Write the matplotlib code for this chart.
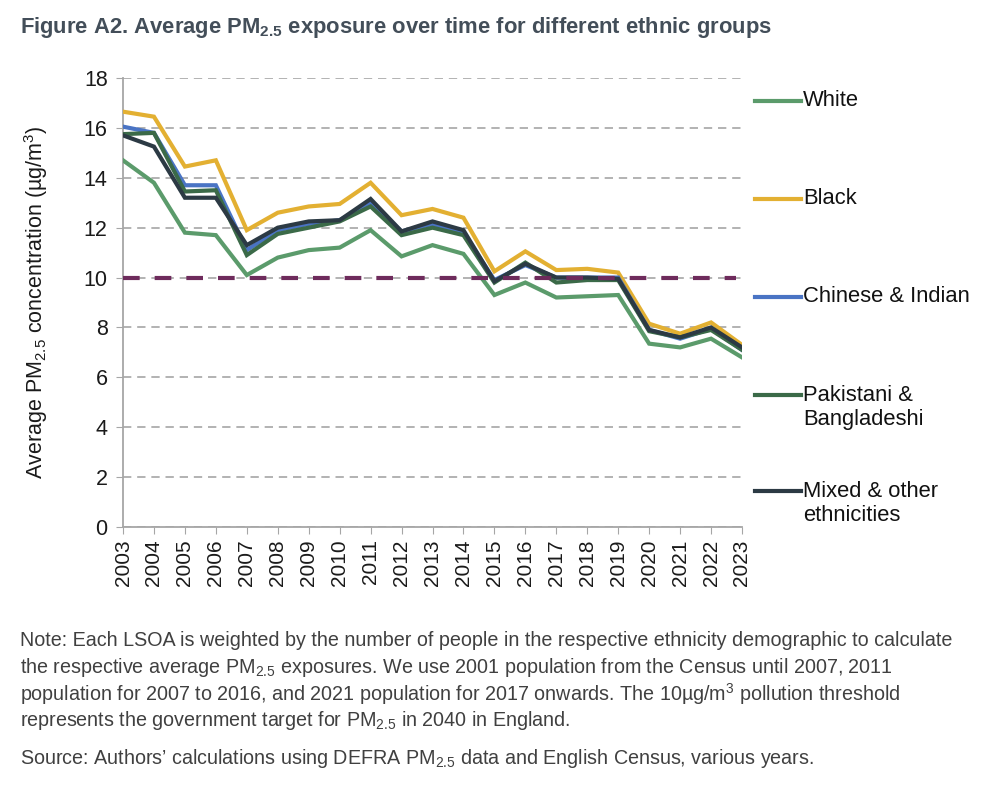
import matplotlib
matplotlib.use("Agg")
import matplotlib.pyplot as plt
from matplotlib.lines import Line2D

plt.rcParams['font.family'] = ['Liberation Sans', 'DejaVu Sans']
plt.rcParams['mathtext.fontset'] = 'custom'
plt.rcParams['mathtext.rm'] = 'Liberation Sans'
plt.rcParams['mathtext.default'] = 'regular'

# data
years = list(range(2003, 2024))
white = [14.7, 13.8, 11.8, 11.7, 10.1, 10.8, 11.1, 11.2, 11.9, 10.85, 11.3,
         10.95, 9.3, 9.8, 9.2, 9.25, 9.3, 7.35, 7.2, 7.55, 6.8]
black = [16.65, 16.45, 14.45, 14.7, 11.9, 12.6, 12.85, 12.95, 13.8, 12.5, 12.75,
         12.4, 10.25, 11.05, 10.3, 10.35, 10.2, 8.15, 7.75, 8.2, 7.3]
chinese_indian = [16.05, 15.8, 13.7, 13.7, 11.1, 11.9, 12.15, 12.3, 13.0, 11.85, 12.15,
                  11.8, 9.9, 10.5, 10.0, 10.0, 10.0, 7.9, 7.55, 7.95, 7.1]
pak_bang = [15.75, 15.8, 13.45, 13.5, 10.9, 11.75, 12.0, 12.25, 12.85, 11.7, 12.0,
            11.7, 9.8, 10.6, 9.8, 9.9, 9.9, 7.85, 7.6, 7.9, 7.1]
mixed_other = [15.7, 15.25, 13.2, 13.2, 11.3, 12.0, 12.25, 12.3, 13.15, 11.85, 12.25,
               11.9, 9.85, 10.55, 10.0, 10.0, 9.95, 7.9, 7.6, 8.0, 7.2]
threshold = 10

series = [
    ("White", white, "#5B9B6B"),
    ("Black", black, "#E3B032"),
    ("Chinese & Indian", chinese_indian, "#4A74C4"),
    ("Pakistani &\nBangladeshi", pak_bang, "#3B6A48"),
    ("Mixed & other\nethnicities", mixed_other, "#2C3A44"),
]

W, H = 1000, 792
fig = plt.figure(figsize=(10, 7.92), dpi=100)
ax = fig.add_axes([123 / W, 1 - 527 / H, (742 - 123) / W, (527 - 78) / H])

for name, vals, col in series:
    ax.plot(years, vals, color=col, lw=3, solid_joinstyle='miter', zorder=3)

ax.axhline(threshold, color="#6E2B5C", lw=3, dashes=(4, 3.6), zorder=4,
           xmax=0.99)

ax.set_xlim(2003, 2023)
ax.set_ylim(0, 18)
ax.set_yticks(range(0, 19, 2))
ax.set_xticks(years)
ax.set_xticklabels([str(y) for y in years], rotation=90, fontsize=15,
                   color="#1a1a1a")
ax.tick_params(axis='y', labelsize=15.5, colors="#1a1a1a", length=5,
               color="#A6A6A6", pad=6)
ax.tick_params(axis='x', length=5, color="#A6A6A6", pad=4)
ax.grid(axis='y', color="#A6A6A6", lw=1.2, dashes=(5, 3.5))
ax.set_axisbelow(True)
for s in ['top', 'right']:
    ax.spines[s].set_visible(False)
for s in ['left', 'bottom']:
    ax.spines[s].set_color("#A6A6A6")
    ax.spines[s].set_linewidth(1.3)

ax.set_ylabel(r"Average PM$_{2.5}$ concentration (µg/m$^3$)", fontsize=15.5,
              color="#1a1a1a")
ax.yaxis.set_label_coords(-(123 - 50) / (742 - 123), 0.5)

# legend drawn by hand to match the spaced-out layout
leg_y = [101, 199, 297, 407.5, 503.5]
line_y = [101, 199, 297, 395, 491]
for (name, vals, col), ty, ly in zip(series, leg_y, line_y):
    fig.add_artist(Line2D([755 / W, 801 / W], [1 - ly / H, 1 - ly / H],
                          color=col, lw=3, transform=fig.transFigure))
    fig.text(803 / W, 1 - ty / H, name, fontsize=15.8, va='center', ha='left',
             color="#111111", linespacing=1.15)

fig.text(20 / W, 1 - 27 / H,
         r"Figure A2. Average PM$_{2.5}$ exposure over time for different ethnic groups",
         fontsize=15.8, fontweight='bold', color="#434E59", va='center')

note_lines = [
    "Note: Each LSOA is weighted by the number of people in the respective ethnicity demographic to calculate",
    r"the respective average PM$_{2.5}$ exposures. We use 2001 population from the Census until 2007, 2011",
    r"population for 2007 to 2016, and 2021 population for 2017 onwards. The 10µg/m$^3$ pollution threshold",
    r"represents the government target for PM$_{2.5}$ in 2040 in England.",
]
for line, yy in zip(note_lines, [638, 664.5, 691, 717.5]):
    fig.text(20 / W, 1 - yy / H, line, fontsize=14.2, color="#404040",
             va='center_baseline')
fig.text(20 / W, 1 - 755 / H,
         r"Source: Authors’ calculations using DEFRA PM$_{2.5}$ data and English Census, various years.",
         fontsize=14.2, color="#404040", va='center_baseline')

fig.savefig("out.png", dpi=100, facecolor="white")
